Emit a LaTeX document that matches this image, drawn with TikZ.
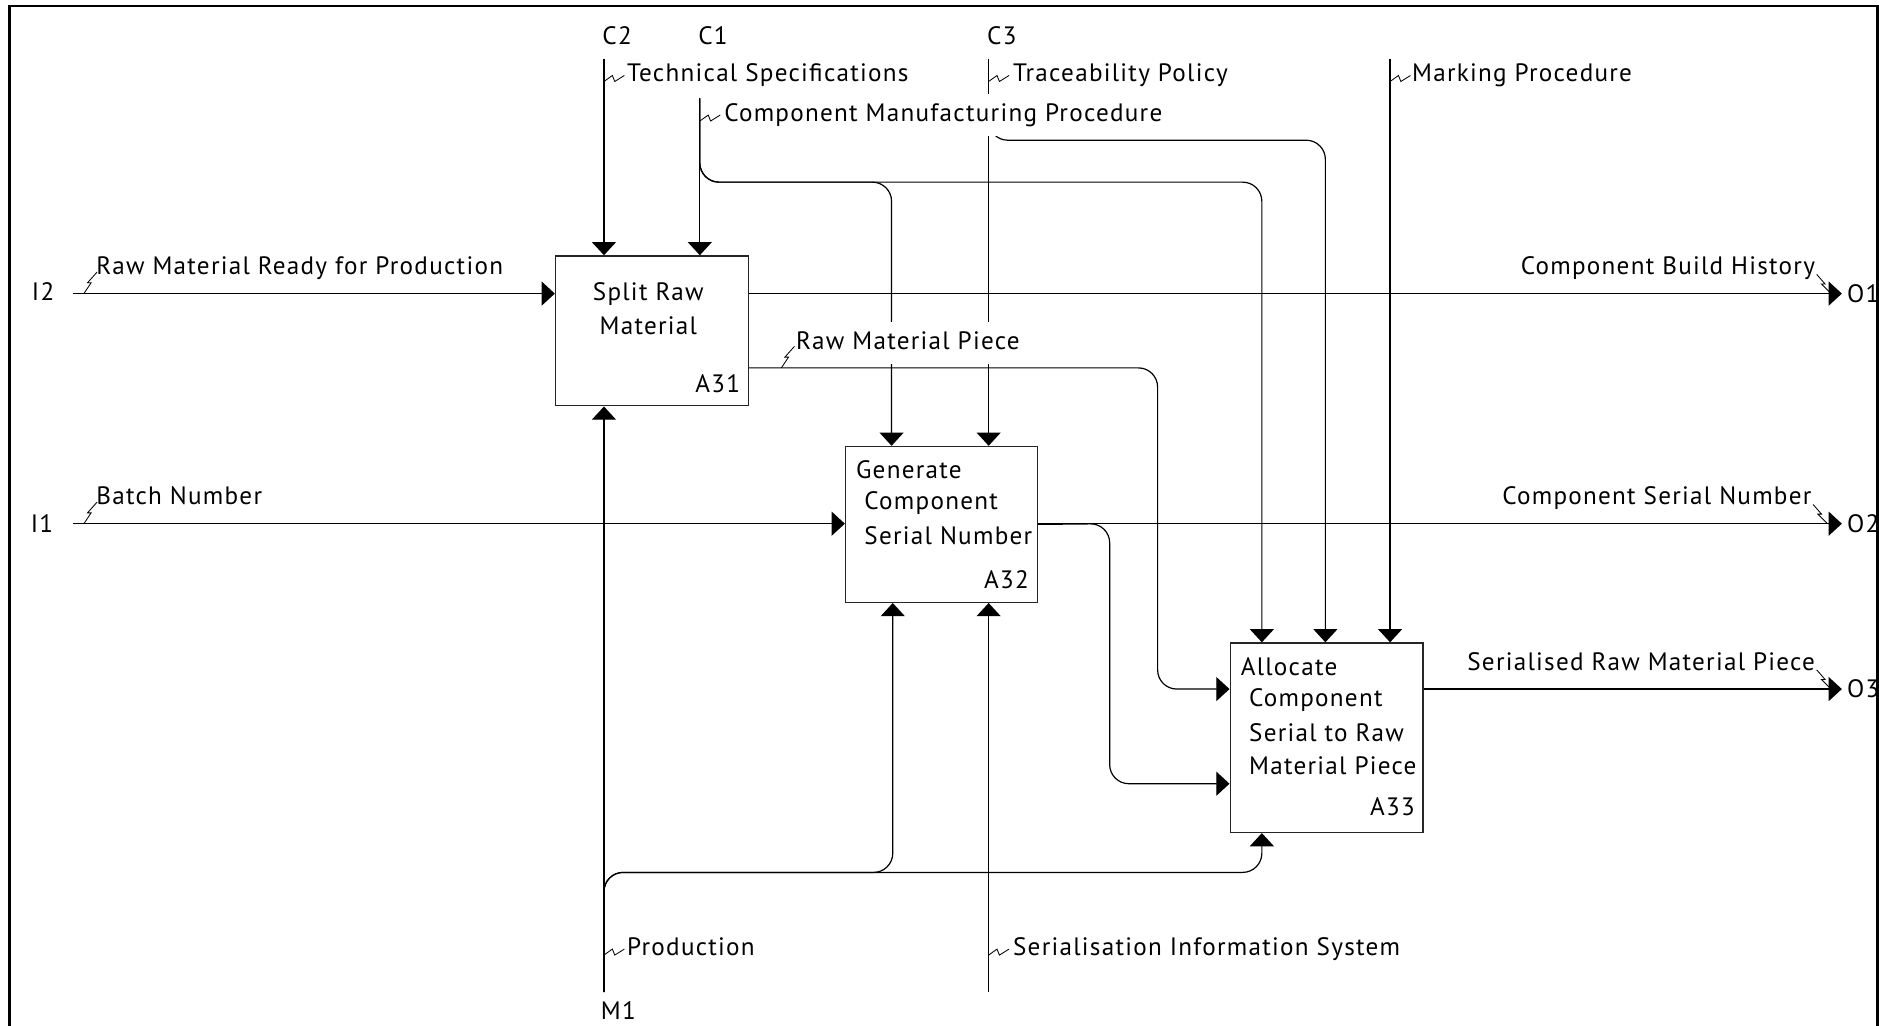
\documentclass[tikz,border=0pt]{standalone}
\usepackage{fontspec}
\setmainfont{PT Sans}[LetterSpace=5]
\usetikzlibrary{arrows.meta}
\newcommand\zigr[1]{\draw[zz] #1 -- ++(7,-5) -- ++(2,5) -- ++(8,-5);}
\newcommand\zigu[1]{\draw[zz] #1 -- ++(6,-9) -- ++(-3,0) -- ++(8,-9);}
\newcommand\zigd[1]{\draw[zz] #1 -- ++(7,8) -- ++(-3,0) -- ++(8,8);}
\begin{document}
\begin{tikzpicture}[x=0.5pt,y=-0.5pt,
  flowline/.style={draw=black, line width=0.5pt},
  arr/.style={-{Triangle[length=5.5pt,width=10pt]}},
  rnd/.style={rounded corners=8pt},
  act/.style={draw=black!85, line width=0.6pt, inner sep=0pt},
  tx/.style={font=\fontsize{10.5}{12}\selectfont, inner sep=0pt},
  lbl/.style={font=\fontsize{10.5}{12}\selectfont, fill=white, inner xsep=1pt,
    inner ysep=4pt, text height=7.4pt, text depth=2pt},
  zz/.style={draw=black, line width=0.35pt}
]
\useasboundingbox (0,0) rectangle (1568,856);
\clip (0,0) rectangle (1568,856);
\draw[line width=1.2pt] (8,5) rectangle (1567,880);

% activity boxes
\node[act, anchor=north west, minimum width=80.5pt, minimum height=62.5pt] (A31) at (463,213) {};
\node[act, anchor=north west, minimum width=80pt, minimum height=65pt] (A32) at (705,372) {};
\node[act, anchor=north west, minimum width=80.5pt, minimum height=79pt] (A33) at (1026,536) {};

% boundary points and bends
\coordinate (i2) at (61,245);
\coordinate (i1) at (61,437);
\coordinate (o1) at (1537,245);
\coordinate (o2) at (1537,437);
\coordinate (o3) at (1537,575);
\coordinate (c2) at (504,49);
\coordinate (c1) at (584,82);
\coordinate (c3) at (825,49);
\coordinate (c4) at (1160,49);
\coordinate (m1) at (504,828);
\coordinate (m2) at (825,828);
\coordinate (k1) at (744,152);
\coordinate (k2) at (1053,152);
\coordinate (c3b) at (825,100);
\coordinate (k3) at (1106,117);
\coordinate (k4) at (745,728);
\coordinate (k5) at (1053,728);
\coordinate (k6) at (966,307);
\coordinate (k7) at (966,575);
\coordinate (k8) at (926,437);
\coordinate (k9) at (926,654);

% inputs
\draw[flowline,arr] (i2) -- (i2 -| A31.west);
\draw[flowline,arr] (i1) -- (i1 -| A32.west);
% outputs
\draw[flowline,arr] (o1 -| A31.east) -- (o1);
\draw[flowline,arr] (o2 -| A32.east) -- (o2);
\draw[flowline,arr] (o3 -| A33.east) -- (o3);
% controls
\draw[flowline,arr] (c2) -- (c2 |- A31.north);
\draw[flowline,arr] (c1) -- (c1 |- A31.north);
\draw[flowline,arr,rnd] (c1) |- (k1) -- (k1 |- A32.north);
\draw[flowline,arr,rnd] (c1) |- (k2) -- (k2 |- A33.north);
\draw[flowline,arr] (c3) -- (c3 |- A32.north);
\draw[flowline,arr,rnd] (c3b) |- (k3) -- (k3 |- A33.north);
\draw[flowline,arr] (c4) -- (c4 |- A33.north);
% mechanisms
\draw[flowline,arr] (m1) -- (m1 |- A31.south);
\draw[flowline,arr,rnd] (m1) |- (k4) -- (k4 |- A32.south);
\draw[flowline,arr,rnd] (m1) |- (k5) -- (k5 |- A33.south);
\draw[flowline,arr] (m2) -- (m2 |- A32.south);
% internal flows
\draw[flowline,arr,rnd] (A31.east |- k6) -- (k6) -- (k7) -- (k7 -| A33.west);
\draw[flowline,arr,rnd] (A32.east) -- (k8) -- (k9) -- (k9 -| A33.west);

% box texts
\node[tx] (t31a) at (541,245) {Split Raw};
\node[tx] (t31b) at (541,272) {Material};
\node[tx, anchor=east] (n31) at (618,320) {A31};
\node[tx, anchor=west] (t32a) at (714,392) {Generate};
\node[tx, anchor=west] (t32b) at (721,420) {Component};
\node[tx, anchor=west] (t32c) at (721,447) {Serial Number};
\node[tx, anchor=east] (n32) at (859,484) {A32};
\node[tx, anchor=west] (t33a) at (1035,556) {Allocate};
\node[tx, anchor=west] (t33b) at (1042,584) {Component};
\node[tx, anchor=west] (t33c) at (1042,611) {Serial to Raw};
\node[tx, anchor=west] (t33d) at (1042,639) {Material Piece};
\node[tx, anchor=east] (n33) at (1181,673) {A33};

% ICOM codes
\node[tx] (lc2) at (515,30) {C2};
\node[tx] (lc1) at (595,30) {C1};
\node[tx] (lc3) at (836,30) {C3};
\node[tx] (li2) at (36,243) {I2};
\node[tx] (li1) at (35,437) {I1};
\node[tx, anchor=west] (lo1) at (1541,245) {O1};
\node[tx, anchor=west] (lo2) at (1541,437) {O2};
\node[tx, anchor=west] (lo3) at (1541,575) {O3};
\node[tx] (lm1) at (516,843) {M1};

% arrow labels
\node[lbl, anchor=west] (a1) at (521,63) {Technical Specifications};
\node[lbl, anchor=west] (a2) at (602,96) {Component Manufacturing Procedure};
\node[lbl, anchor=west] (a3) at (843,63) {Traceability Policy};
\node[lbl, anchor=west] (a4) at (1176,63) {Marking Procedure};
\node[lbl, anchor=west] (a5) at (521,792) {Production};
\node[lbl, anchor=west] (a6) at (843,792) {Serialisation Information System};
\node[lbl, anchor=west] (a7) at (78,224) {Raw Material Ready for Production};
\node[lbl, anchor=west] (a8) at (78,416) {Batch Number};
\node[lbl, anchor=west] (a9) at (662,286) {Raw Material Piece};
\node[lbl, anchor=east] (a10) at (1517,224) {Component Build History};
\node[lbl, anchor=east] (a11) at (1514,416) {Component Serial Number};
\node[lbl, anchor=east] (a12) at (1517,554) {Serialised Raw Material Piece};

% label squiggles
\zigr{(504,68)}
\zigr{(584,101)}
\zigr{(825,68)}
\zigr{(1160,68)}
\zigr{(504,797)}
\zigr{(825,797)}
\zigu{(70,245)}
\zigu{(70,437)}
\zigu{(652,307)}
\zigd{(1516,229)}
\zigd{(1513,421)}
\zigd{(1516,559)}
\end{tikzpicture}
\end{document}
